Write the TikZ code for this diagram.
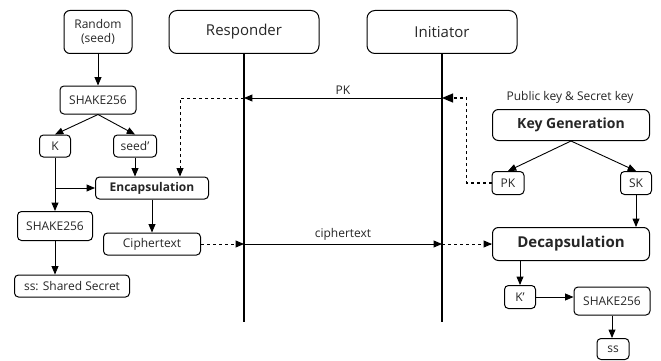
\documentclass[tikz,border=0pt]{standalone}
\usepackage{fontspec}
\setmainfont{Open Sans}
\usetikzlibrary{arrows}

\tikzset{
  box/.style={draw, rounded corners=4pt, inner sep=0pt, line width=1pt, text=black!85, font=\fontsize{12}{14}\selectfont},
  party/.style={box, rounded corners=8pt, minimum width=150pt, minimum height=43pt, font=\fontsize{15}{17}\selectfont},
  msg/.style={line width=0.9pt, -triangle 45},
  life/.style={line width=1.6pt},
}

\begin{document}
\begin{tikzpicture}[x=1pt, y=-1pt]

  \useasboundingbox (0,0) rectangle (661,361);

  % Parties and lifelines
  \node[party] (resp) at (244,32) {Responder};
  \node[party] (init) at (442,32) {Initiator};
  \coordinate (respEnd) at (244,322);
  \coordinate (initEnd) at (442,322);
  \draw[life] (resp.south) -- (respEnd);
  \draw[life] (init.south) -- (initEnd);

  % Responder side
  \node[box, align=center, minimum width=68pt, minimum height=43pt, rounded corners=6pt] (rand) at (98,32) {Random\\(seed)};
  \node[box, minimum width=76pt, minimum height=28pt] (shakeA) at (98,100) {SHAKE256};
  \node[box, minimum width=31pt, minimum height=22pt] (k) at (55,146) {K};
  \node[box, minimum width=43pt, minimum height=22pt] (seed) at (135,146) {seed’};
  \node[box, minimum width=113pt, minimum height=22pt, font=\fontsize{12}{14}\selectfont\bfseries] (encap) at (152,188) {Encapsulation};
  \node[box, minimum width=97pt, minimum height=22pt] (ct) at (152,244) {Ciphertext};
  \node[box, minimum width=75pt, minimum height=29pt] (shakeB) at (55,226) {SHAKE256};
  \node[box, minimum width=115pt, minimum height=22pt] (ssA) at (72,286) {ss: Shared Secret};

  % Initiator side
  \node[text=black!85, font=\fontsize{12}{14}\selectfont] (keys) at (570,97) {Public key \& Secret key};
  \node[box, minimum width=157pt, minimum height=31pt, rounded corners=6pt, font=\fontsize{14}{16}\selectfont\bfseries] (keygen) at (571,125) {Key Generation};
  \node[box, minimum width=32pt, minimum height=23pt] (pk) at (508,183) {PK};
  \node[box, minimum width=31pt, minimum height=23pt] (sk) at (636,183) {SK};
  \node[box, minimum width=157pt, minimum height=33pt, rounded corners=6pt, font=\fontsize{15}{17}\selectfont\bfseries] (decap) at (571,244) {Decapsulation};
  \node[box, minimum width=31pt, minimum height=23pt] (kp) at (520,297) {K’};
  \node[box, minimum width=76pt, minimum height=28pt] (shakeC) at (612,301) {SHAKE256};
  \node[box, minimum width=32pt, minimum height=21pt] (ssB) at (613,349) {ss};

  % Messages
  \coordinate (pkR) at (244,98);
  \coordinate (pkI) at (442,98);
  \coordinate (ctR) at (244,244);
  \coordinate (ctI) at (442,244);
  \draw[msg] (pkI) -- node[above, text=black!85, font=\fontsize{12}{14}\selectfont] {PK} (pkR);
  \draw[msg, dashed] (pkR) -| ([xshift=28pt]encap.north);
  \draw[msg, dashed, line width=1.6pt] (pk.west) -- ++(-25,0) |- (pkI);
  \draw[msg, dashed] (ct.east) -- (ctR);
  \draw[msg] (ctR) -- node[above, text=black!85, font=\fontsize{12}{14}\selectfont] {ciphertext} (ctI);
  \draw[msg, dashed] (ctI) -- (decap.west);

  % Responder flow
  \draw[msg] (rand) -- (shakeA);
  \draw[msg] (shakeA.south) -- (k.north);
  \draw[msg] (shakeA.south) -- (seed.north);
  \draw[msg] (seed) -- (seed |- encap.north);
  \draw[msg] (k) -- (shakeB);
  \draw[msg] (k |- encap) -- (encap);
  \draw[msg] (encap) -- (ct);
  \draw[msg] (shakeB) -- (shakeB |- ssA.north);

  % Initiator flow
  \draw[msg] (keygen.south) -- (pk.north);
  \draw[msg] (keygen.south) -- (sk.north);
  \draw[msg] (sk) -- (sk |- decap.north);
  \draw[msg] (decap.south -| kp) -- (kp);
  \draw[msg] (kp) -- (kp -| shakeC.west);
  \draw[msg] (shakeC) -- (shakeC |- ssB.north);

\end{tikzpicture}
\end{document}
